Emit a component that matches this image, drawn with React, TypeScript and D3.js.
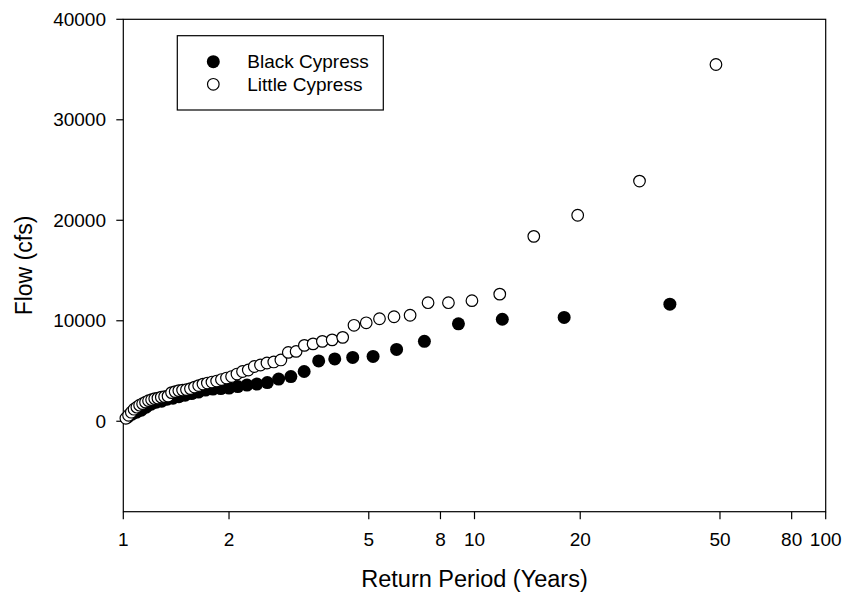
import React from "react";
import * as d3 from "d3";

// Return periods (years) and annual peak flows (cfs), ranked plotting positions
const blackReturnPeriod = [
  1.029, 1.059, 1.091, 1.125, 1.161, 1.2, 1.241, 1.286, 1.333, 1.385, 1.44, 1.5,
  1.565, 1.636, 1.714, 1.8, 1.895, 2.0, 2.118, 2.25, 2.4, 2.571, 2.769, 3.0,
  3.273, 3.6, 4.0, 4.5, 5.143, 6.0, 7.2, 9.0, 12.0, 18.0, 36.0,
];
const blackFlow = [
  400, 700, 900, 1100, 1400, 1700, 1900, 2000, 2200, 2300, 2450, 2600,
  2750, 2900, 3100, 3200, 3250, 3300, 3450, 3600, 3700, 3850, 4200, 4450,
  4950, 6000, 6200, 6350, 6450, 7150, 7950, 9700, 10150, 10330, 11650,
];

const littleReturnPeriod = [
  1.017, 1.035, 1.054, 1.073, 1.093, 1.113, 1.135, 1.157, 1.18, 1.204, 1.229,
  1.255, 1.283, 1.311, 1.341, 1.372, 1.405, 1.439, 1.475, 1.513, 1.553, 1.595,
  1.639, 1.686, 1.735, 1.788, 1.844, 1.903, 1.967, 2.034, 2.107, 2.185, 2.269,
  2.36, 2.458, 2.565, 2.682, 2.81, 2.95, 3.105, 3.278, 3.47, 3.688, 3.933,
  4.214, 4.538, 4.917, 5.364, 5.9, 6.556, 7.375, 8.429, 9.833, 11.8, 14.75,
  19.67, 29.5, 48.7,
];
const littleFlow = [
  300, 600, 900, 1200, 1400, 1600, 1750, 1900, 2050, 2150, 2250,
  2300, 2400, 2450, 2500, 2850, 2950, 3050, 3100, 3150, 3250, 3400,
  3550, 3700, 3800, 3900, 4000, 4150, 4300, 4450, 4700, 4950, 5100,
  5450, 5600, 5800, 5900, 6100, 6850, 6950, 7550, 7700, 7950, 8100,
  8350, 9550, 9800, 10200, 10400, 10550, 11800, 11800, 12000, 12650, 18400,
  20500, 23900, 35500,
];

const xTicks = [1, 2, 5, 8, 10, 20, 50, 80, 100];
const yTicks = [0, 10000, 20000, 30000, 40000];
const seriesNames = ["Black Cypress", "Little Cypress"];

const W = 845;
const H = 596;
const left = 123.3;
const right = 825.7;
const top = 19.3;
const bottom = 511.7;
const font = "'Liberation Sans', Arial, Helvetica, sans-serif";

export default function App() {
  const x = d3.scaleLog().domain([1, 100]).range([left, right]);
  const y = d3.scaleLinear().domain([-9000, 40000]).range([bottom, top]);

  const black = blackReturnPeriod.map((t, i) => ({ t, q: blackFlow[i] }));
  const little = littleReturnPeriod.map((t, i) => ({ t, q: littleFlow[i] }));

  return (
    <svg
      width={W}
      height={H}
      viewBox={`0 0 ${W} ${H}`}
      style={{ position: "absolute", left: 0, top: 0, background: "#fff" }}
    >
      <rect x={0} y={0} width={W} height={H} fill="#fff" />

      {/* plot frame */}
      <rect
        x={left}
        y={top}
        width={right - left}
        height={bottom - top}
        fill="none"
        stroke="#000"
        strokeWidth={1.2}
      />

      {/* y axis ticks */}
      {yTicks.map((v) => (
        <g key={`y${v}`}>
          <line x1={left - 7} x2={left} y1={y(v)} y2={y(v)} stroke="#000" strokeWidth={1.2} />
          <text
            x={106}
            y={y(v) + 6.6}
            textAnchor="end"
            fontFamily={font}
            fontSize={19}
            fill="#000"
          >
            {v}
          </text>
        </g>
      ))}

      {/* x axis ticks */}
      {xTicks.map((v) => (
        <g key={`x${v}`}>
          <line x1={x(v)} x2={x(v)} y1={bottom} y2={bottom + 7.5} stroke="#000" strokeWidth={1.2} />
          <text
            x={x(v)}
            y={546}
            textAnchor="middle"
            fontFamily={font}
            fontSize={19}
            fill="#000"
          >
            {v}
          </text>
        </g>
      ))}

      {/* axis titles */}
      <text
        x={(left + right) / 2}
        y={587}
        textAnchor="middle"
        fontFamily={font}
        fontSize={23.5}
        fill="#000"
      >
        Return Period (Years)
      </text>
      <text
        transform={`translate(32, ${(top + bottom) / 2}) rotate(-90)`}
        textAnchor="middle"
        fontFamily={font}
        fontSize={23}
        fill="#000"
      >
        Flow (cfs)
      </text>

      {/* Black Cypress */}
      {black.map((d, i) => (
        <circle key={`b${i}`} cx={x(d.t)} cy={y(d.q)} r={6.5} fill="#000" />
      ))}

      {/* Little Cypress */}
      {little.map((d, i) => (
        <circle
          key={`l${i}`}
          cx={x(d.t)}
          cy={y(d.q)}
          r={5.8}
          fill="#fff"
          stroke="#000"
          strokeWidth={1.2}
        />
      ))}

      {/* legend */}
      <rect x={177.3} y={35.7} width={206} height={74.3} fill="#fff" stroke="#000" strokeWidth={1.2} />
      <circle cx={213.3} cy={61.7} r={6.5} fill="#000" />
      <circle cx={213.3} cy={84.3} r={5.8} fill="#fff" stroke="#000" strokeWidth={1.2} />
      <text x={247.3} y={61.7 + 6.6} fontFamily={font} fontSize={19} fill="#000">
        {seriesNames[0]}
      </text>
      <text x={247.3} y={84.3 + 6.6} fontFamily={font} fontSize={19} fill="#000">
        {seriesNames[1]}
      </text>
    </svg>
  );
}
